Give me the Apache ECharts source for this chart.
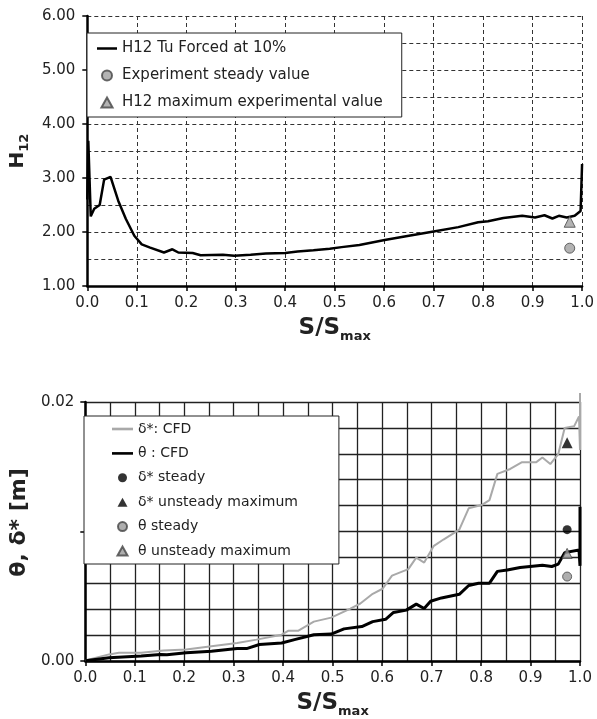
<!DOCTYPE html>
<html>
<head>
<meta charset="utf-8">
<script src="https://cdn.jsdelivr.net/npm/echarts@6/dist/echarts.min.js"></script>
<style>
html,body{margin:0;padding:0;background:#fff;}
#c{width:597px;height:719px;}
</style>
</head>
<body>
<div id="c"></div>
<script>
// ---- Top chart: H12 along S/Smax ----
const h12S = [0.000, 0.002, 0.007, 0.014, 0.025, 0.034, 0.047, 0.0625, 0.078, 0.095, 0.110, 0.127, 0.155, 0.172, 0.184, 0.213, 0.229, 0.274, 0.297, 0.330, 0.361, 0.400, 0.425, 0.457, 0.490, 0.514, 0.550, 0.601, 0.650, 0.700, 0.750, 0.790, 0.810, 0.841, 0.879, 0.905, 0.924, 0.940, 0.953, 0.969, 0.985, 0.997, 1.000];
const h12V = [2.60, 3.69, 2.29, 2.43, 2.50, 2.97, 3.02, 2.58, 2.24, 1.93, 1.77, 1.71, 1.62, 1.68, 1.62, 1.61, 1.57, 1.58, 1.56, 1.58, 1.60, 1.61, 1.64, 1.66, 1.69, 1.72, 1.76, 1.85, 1.93, 2.01, 2.09, 2.18, 2.20, 2.26, 2.30, 2.27, 2.31, 2.25, 2.30, 2.27, 2.30, 2.39, 3.26];
const expSteady = [[0.975, 1.70]];
const expMax = [[0.975, 2.19]];

// ---- Bottom chart: theta and delta* along S/Smax (m) ----
const deltaS = [0.000, 0.048, 0.068, 0.113, 0.158, 0.204, 0.255, 0.307, 0.346, 0.397, 0.410, 0.430, 0.462, 0.497, 0.536, 0.556, 0.581, 0.601, 0.620, 0.653, 0.669, 0.685, 0.704, 0.724, 0.756, 0.775, 0.801, 0.817, 0.833, 0.859, 0.882, 0.911, 0.924, 0.940, 0.956, 0.969, 0.988, 0.998, 1.000, 1.000];
const deltaV = [0.00005, 0.00051, 0.00063, 0.00063, 0.00081, 0.00089, 0.00114, 0.00139, 0.00165, 0.00203, 0.00233, 0.00233, 0.00304, 0.00335, 0.00405, 0.00444, 0.00519, 0.00558, 0.00659, 0.00710, 0.00798, 0.00760, 0.00887, 0.00938, 0.01014, 0.01179, 0.01204, 0.01242, 0.01445, 0.01483, 0.01534, 0.01534, 0.01572, 0.01521, 0.01597, 0.01800, 0.01812, 0.01888, 0.01630, 0.02070];
const thetaS = [0.000, 0.048, 0.113, 0.152, 0.165, 0.204, 0.255, 0.307, 0.326, 0.352, 0.397, 0.423, 0.462, 0.497, 0.523, 0.559, 0.581, 0.607, 0.623, 0.649, 0.669, 0.685, 0.698, 0.720, 0.756, 0.775, 0.795, 0.817, 0.833, 0.853, 0.879, 0.924, 0.943, 0.956, 0.969, 0.998, 1.000, 1.000];
const thetaV = [0.00002, 0.00025, 0.00038, 0.00051, 0.00048, 0.00063, 0.00076, 0.00096, 0.00096, 0.00127, 0.00139, 0.00165, 0.00203, 0.00208, 0.00248, 0.00266, 0.00304, 0.00322, 0.00375, 0.00393, 0.00439, 0.00405, 0.00461, 0.00487, 0.00515, 0.00583, 0.00601, 0.00601, 0.00692, 0.00702, 0.00722, 0.00740, 0.00730, 0.00748, 0.00837, 0.00857, 0.00735, 0.01191];
const deltaSteady = [[0.974, 0.01014]];
const deltaMax = [[0.974, 0.01686]];
const thetaSteady = [[0.974, 0.00652]];
const thetaMax = [[0.974, 0.00831]];

const FONT = 'DejaVu Sans';
const TXT = '#222';
const zip = (a, b) => a.map((x, i) => [x, b[i]]);

// legend icon shapes
const ICON_LINE = 'path://M0,0L40,0L40,5L0,5Z';
const ICON_TRI = 'path://M5,0L10,9L0,9Z';

const chart = echarts.init(document.getElementById('c'), null, {renderer: 'canvas'});

const nameRichX = {
  a: {fontFamily: FONT, fontWeight: 'bold', fontSize: 23, color: TXT, lineHeight: 28, verticalAlign: 'bottom'},
  b: {fontFamily: FONT, fontWeight: 'bold', fontSize: 13, color: TXT, lineHeight: 28, verticalAlign: 'bottom', padding: [0, 0, -3, 0]}
};

function xAxisCfg(gridIndex, dashed, nameGap) {
  return {
    type: 'value', gridIndex: gridIndex, min: 0, max: 1, interval: 0.1,
    axisLine: {show: true, onZero: false, lineStyle: {color: '#000', width: 2.5}},
    axisTick: {show: true, length: 5, lineStyle: {color: '#000', width: 1.5}},
    axisLabel: {formatter: v => v.toFixed(1), fontFamily: FONT, fontSize: 15, color: TXT, margin: 10},
    splitLine: {show: true, lineStyle: dashed ? {color: '#333', width: 1, type: [4, 3]} : {color: '#222', width: 1.3}},
    minorTick: {show: false, splitNumber: 2},
    minorSplitLine: {show: !dashed, lineStyle: {color: '#222', width: 1.3}},
    name: '{a|S/S}{b|max}', nameLocation: 'middle', nameGap: nameGap,
    nameTextStyle: {rich: nameRichX}
  };
}

const option = {
  backgroundColor: '#fff',
  animation: false,
  textStyle: {fontFamily: FONT},
  grid: [
    {left: 62, right: 14, top: 16, height: 270},
    {left: 63, right: 17, top: 402, height: 263}
  ],
  xAxis: [xAxisCfg(0, true, 26), xAxisCfg(1, false, 26)],
  yAxis: [
    {
      type: 'value', gridIndex: 0, min: 1, max: 6, interval: 1,
      axisLine: {show: true, lineStyle: {color: '#000', width: 2.5}},
      axisTick: {show: true, length: 5, lineStyle: {color: '#000', width: 1.5}},
      axisLabel: {formatter: v => v.toFixed(2), fontFamily: FONT, fontSize: 15, color: TXT, margin: 12},
      splitLine: {show: true, lineStyle: {color: '#333', width: 1, type: [4, 3]}},
      minorTick: {show: false, splitNumber: 2},
      minorSplitLine: {show: true, lineStyle: {color: '#333', width: 1, type: [4, 3]}},
      name: '{a|H}{b|12}', nameLocation: 'middle', nameGap: 28, nameRotate: 90,
      nameTextStyle: {rich: {
        a: {fontFamily: FONT, fontWeight: 'bold', fontSize: 20, color: TXT, lineHeight: 24, verticalAlign: 'bottom'},
        b: {fontFamily: FONT, fontWeight: 'bold', fontSize: 13, color: TXT, lineHeight: 24, verticalAlign: 'bottom', padding: [0, 0, -3, 0]}
      }}
    },
    {
      type: 'value', gridIndex: 1, min: 0, max: 0.02, interval: 0.01,
      axisLine: {show: true, lineStyle: {color: '#000', width: 2.5}},
      axisTick: {show: true, length: 5, lineStyle: {color: '#000', width: 1.5}},
      axisLabel: {formatter: v => (Math.abs(v - 0.01) < 1e-9 ? '' : v.toFixed(2)), fontFamily: FONT, fontSize: 15, color: TXT, margin: 11},
      splitLine: {show: true, lineStyle: {color: '#222', width: 1.3}},
      minorTick: {show: false, splitNumber: 5},
      minorSplitLine: {show: true, lineStyle: {color: '#222', width: 1.3}},
      name: 'θ, δ* [m]', nameLocation: 'middle', nameGap: 24, nameRotate: 90,
      nameTextStyle: {fontFamily: FONT, fontWeight: 'bold', fontSize: 22, color: TXT, padding: [0, 0, 0, 18]}
    }
  ],
  legend: [
    {
      left: 87, top: 33, orient: 'vertical', backgroundColor: '#fff',
      borderColor: '#222', borderWidth: 1, borderRadius: 0,
      padding: [8, 19, 7, 10], itemGap: 12, itemWidth: 20, itemHeight: 10,
      textStyle: {fontFamily: FONT, fontSize: 15, color: TXT},
      data: [
        {name: 'H12 Tu Forced at 10%', icon: ICON_LINE},
        {name: 'Experiment steady value', icon: 'circle'},
        {name: 'H12 maximum experimental value', icon: ICON_TRI}
      ]
    },
    {
      left: 84, top: 416, orient: 'vertical', backgroundColor: '#fff',
      borderColor: '#222', borderWidth: 1, borderRadius: 0,
      padding: [6, 41, 6, 28], itemGap: 10.4, itemWidth: 21, itemHeight: 9,
      textStyle: {fontFamily: FONT, fontSize: 14, color: TXT},
      data: [
        {name: 'δ*: CFD', icon: ICON_LINE},
        {name: 'θ : CFD', icon: ICON_LINE},
        {name: 'δ* steady', icon: 'circle'},
        {name: 'δ* unsteady maximum', icon: ICON_TRI},
        {name: 'θ steady', icon: 'circle'},
        {name: 'θ unsteady maximum', icon: ICON_TRI}
      ]
    }
  ],
  series: [
    {
      name: 'H12 Tu Forced at 10%', type: 'line', xAxisIndex: 0, yAxisIndex: 0,
      data: zip(h12S, h12V), showSymbol: false, symbol: 'none',
      lineStyle: {color: '#000', width: 2.5}, itemStyle: {color: '#000'}, z: 5
    },
    {
      name: 'Experiment steady value', type: 'scatter', xAxisIndex: 0, yAxisIndex: 0,
      data: expSteady, symbol: 'circle', symbolSize: 10,
      itemStyle: {color: '#a0a0a0', borderColor: '#444', borderWidth: 1}, z: 6
    },
    {
      name: 'H12 maximum experimental value', type: 'scatter', xAxisIndex: 0, yAxisIndex: 0,
      data: expMax, symbol: 'triangle', symbolSize: 11,
      itemStyle: {color: '#a0a0a0', borderColor: '#444', borderWidth: 1}, z: 6
    },
    {
      name: 'δ*: CFD', type: 'line', xAxisIndex: 1, yAxisIndex: 1,
      data: zip(deltaS, deltaV), showSymbol: false, symbol: 'none', clip: false,
      lineStyle: {color: '#a9a9a9', width: 2}, itemStyle: {color: '#a9a9a9'}, z: 5
    },
    {
      name: 'θ : CFD', type: 'line', xAxisIndex: 1, yAxisIndex: 1,
      data: zip(thetaS, thetaV), showSymbol: false, symbol: 'none',
      lineStyle: {color: '#000', width: 3}, itemStyle: {color: '#000'}, z: 5
    },
    {
      name: 'δ* steady', type: 'scatter', xAxisIndex: 1, yAxisIndex: 1,
      data: deltaSteady, symbol: 'circle', symbolSize: 9,
      itemStyle: {color: '#000'}, z: 6
    },
    {
      name: 'δ* unsteady maximum', type: 'scatter', xAxisIndex: 1, yAxisIndex: 1,
      data: deltaMax, symbol: 'triangle', symbolSize: 11,
      itemStyle: {color: '#000'}, z: 6
    },
    {
      name: 'θ steady', type: 'scatter', xAxisIndex: 1, yAxisIndex: 1,
      data: thetaSteady, symbol: 'circle', symbolSize: 9,
      itemStyle: {color: '#9a9a9a', borderColor: '#444', borderWidth: 1}, z: 6
    },
    {
      name: 'θ unsteady maximum', type: 'scatter', xAxisIndex: 1, yAxisIndex: 1,
      data: thetaMax, symbol: 'triangle', symbolSize: 10,
      itemStyle: {color: '#9a9a9a', borderColor: '#444', borderWidth: 1}, z: 6
    }
  ]
};
chart.setOption(option);
</script>
</body>
</html>
